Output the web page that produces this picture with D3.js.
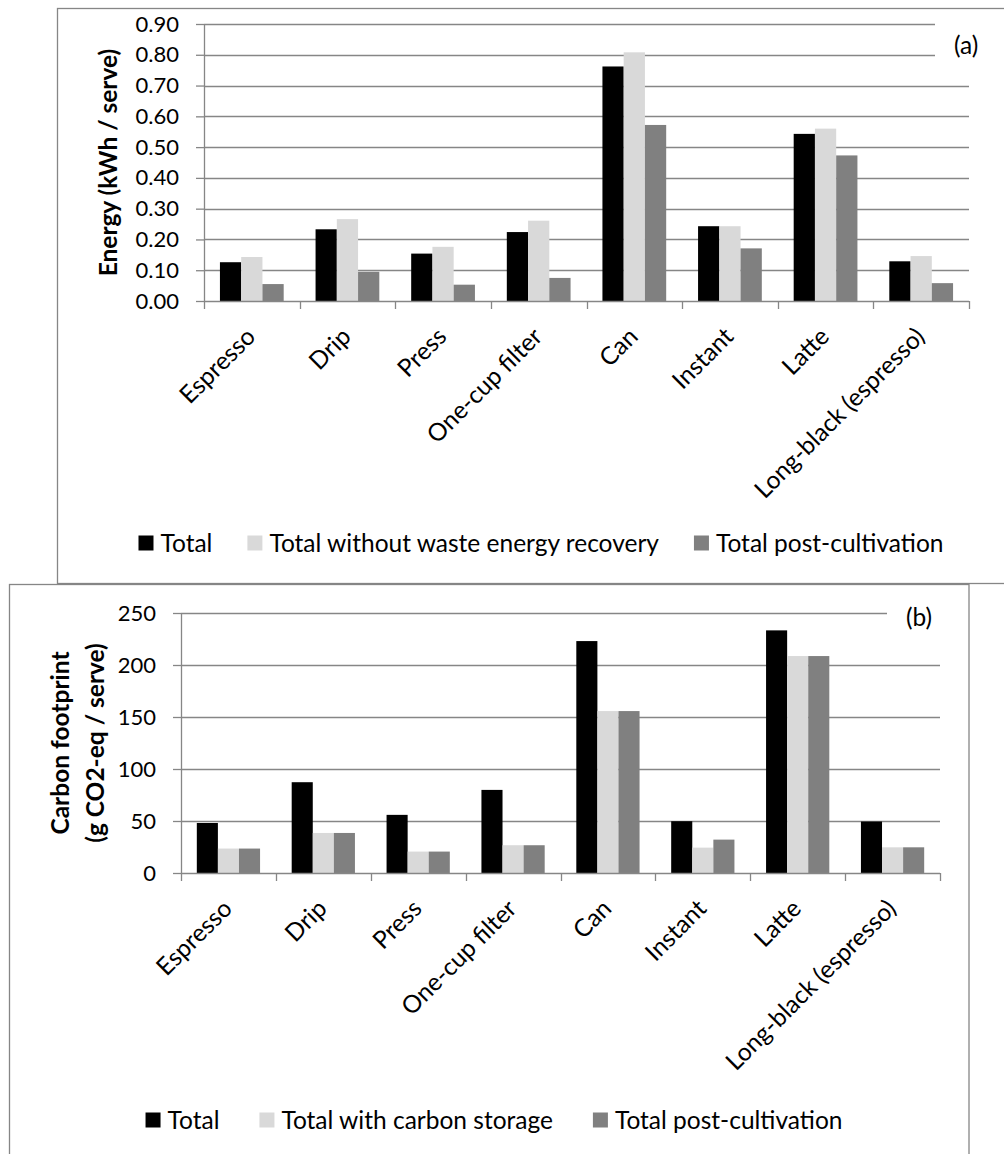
<!DOCTYPE html>
<html>
<head>
<meta charset="utf-8">
<script src="https://cdn.jsdelivr.net/npm/d3@7"></script>
<style>
  body { margin: 0; background: #fff; }
  svg { display: block; font-family: Lato, "Open Sans", sans-serif; }
</style>
</head>
<body>
<svg id="chart" width="1004" height="1154"></svg>
<script>
// categories shared by both panels
var categories = ["Espresso", "Drip", "Press", "One-cup filter", "Can", "Instant", "Latte", "Long-black (espresso)"];

// (a) energy, kWh / serve
var energySeries = ["Total", "Total without waste energy recovery", "Total post-cultivation"];
var energyTotal      = [0.126, 0.233, 0.154, 0.224, 0.762, 0.243, 0.543, 0.129];
var energyNoRecovery = [0.143, 0.266, 0.176, 0.261, 0.808, 0.243, 0.560, 0.146];
var energyPost       = [0.055, 0.095, 0.053, 0.075, 0.572, 0.171, 0.473, 0.058];
var energyTicks = [0, 0.1, 0.2, 0.3, 0.4, 0.5, 0.6, 0.7, 0.8, 0.9];

// (b) carbon footprint, g CO2-eq / serve
var carbonSeries = ["Total", "Total with carbon storage", "Total post-cultivation"];
var carbonTotal   = [48.1, 87.3, 55.9, 79.9, 223.0, 49.8, 233.3, 49.5];
var carbonStorage = [23.5, 38.5, 20.6, 26.7, 155.7, 24.4, 208.6, 24.7];
var carbonPost    = [23.5, 38.5, 20.6, 26.7, 155.7, 32.1, 208.6, 24.7];
var carbonTicks = [0, 50, 100, 150, 200, 250];

var colors = ["#000000", "#d9d9d9", "#808080"];
var lineGray = "#868686";
var tickFont = 22, textFont = 24.5;

var svg = d3.select("#chart");

// panel frames
svg.append("rect").attr("x", 57.5).attr("y", 8.5).attr("width", 1000).attr("height", 575)
    .attr("fill", "none").attr("stroke", lineGray).attr("stroke-width", 1.3);
svg.append("rect").attr("x", 9.5).attr("y", 584.5).attr("width", 959.5).attr("height", 600)
    .attr("fill", "#fff").attr("stroke", lineGray).attr("stroke-width", 1.3);

function drawPanel(opt) {
    var width = opt.right - opt.left,
        height = opt.bottom - opt.top;
    var g = svg.append("g").attr("transform", "translate(" + opt.left + "," + opt.top + ")");

    var data = categories.map(function(c, i) {
        return { cat: c, values: opt.series.map(function(s, j) { return { key: s, value: opt.values[j][i] }; }) };
    });

    var x0 = d3.scaleBand().domain(categories).range([0, width]).paddingInner(1 / 3).paddingOuter(1 / 6);
    var x1 = d3.scaleBand().domain(opt.series).range([0, x0.bandwidth()]);
    var y = d3.scaleLinear().domain([0, opt.ticks[opt.ticks.length - 1]]).range([height, 0]);
    var z = d3.scaleOrdinal().domain(opt.series).range(colors);

    // gridlines
    g.append("g").selectAll("line")
        .data(opt.ticks.slice(1))
        .enter().append("line")
        .attr("x1", 0).attr("x2", width)
        .attr("y1", function(d) { return Math.round(y(d)) + 0.5; })
        .attr("y2", function(d) { return Math.round(y(d)) + 0.5; })
        .attr("stroke", lineGray).attr("stroke-width", 1.3);

    // white box behind the panel tag
    g.append("rect")
        .attr("x", opt.tagBox[0] - opt.left).attr("y", opt.tagBox[1] - opt.top)
        .attr("width", opt.tagBox[2]).attr("height", opt.tagBox[3])
        .attr("fill", "#fff");
    g.append("text")
        .attr("x", opt.tagPos[0] - opt.left).attr("y", opt.tagPos[1] - opt.top)
        .attr("dy", "0.35em")
        .attr("font-size", textFont)
        .text(opt.tag);

    // bars
    g.append("g").selectAll("g")
        .data(data)
        .enter().append("g")
        .attr("transform", function(d) { return "translate(" + x0(d.cat) + ",0)"; })
        .selectAll("rect")
        .data(function(d) { return d.values; })
        .enter().append("rect")
        .attr("x", function(d) { return x1(d.key); })
        .attr("y", function(d) { return y(d.value); })
        .attr("width", x1.bandwidth())
        .attr("height", function(d) { return height - y(d.value); })
        .attr("fill", function(d) { return z(d.key); });

    // y axis
    var yAxis = g.append("g")
        .call(d3.axisLeft(y).tickValues(opt.ticks).tickFormat(opt.format).tickSizeInner(8).tickSizeOuter(0).tickPadding(17));
    yAxis.attr("font-family", null);
    yAxis.select(".domain").attr("stroke", lineGray).attr("stroke-width", 1.3);
    yAxis.selectAll(".tick line").attr("stroke", lineGray).attr("stroke-width", 1.3);
    yAxis.selectAll(".tick text").attr("font-size", tickFont).attr("fill", "#000");

    // x axis: baseline with ticks on category boundaries
    var xa = g.append("g").attr("transform", "translate(0," + height + ")");
    xa.append("line").attr("x1", 0).attr("x2", width).attr("y1", 0.5).attr("y2", 0.5)
        .attr("stroke", lineGray).attr("stroke-width", 1.3);
    xa.selectAll("line.tk")
        .data(d3.range(categories.length + 1))
        .enter().append("line")
        .attr("class", "tk")
        .attr("x1", function(i) { return Math.round(i * x0.step()) + 0.5; })
        .attr("x2", function(i) { return Math.round(i * x0.step()) + 0.5; })
        .attr("y1", 0).attr("y2", 8)
        .attr("stroke", lineGray).attr("stroke-width", 1.3);
    xa.selectAll("text")
        .data(categories)
        .enter().append("text")
        .attr("transform", function(d) {
            return "translate(" + (x0(d) + x0.bandwidth() / 2 - 1) + ",31) rotate(-45)";
        })
        .attr("text-anchor", "end")
        .attr("dy", "0.35em")
        .attr("font-size", textFont)
        .text(function(d) { return d; });

    // y axis title
    var title = g.append("text")
        .attr("transform", "translate(" + (opt.titleX[0] - opt.left) + "," + (height / 2) + ") rotate(-90)")
        .attr("text-anchor", "middle")
        .attr("font-weight", "bold")
        .attr("font-size", textFont);
    opt.title.forEach(function(t, i) {
        title.append("tspan")
            .attr("x", 0)
            .attr("y", opt.titleX[i] - opt.titleX[0])
            .attr("dy", "0.35em")
            .text(t);
    });

    // legend, centred under the plot
    var legend = svg.append("g").attr("font-size", textFont);
    var items = legend.selectAll("g")
        .data(opt.series)
        .enter().append("g");
    items.append("rect")
        .attr("width", 15).attr("height", 15)
        .attr("y", -7.5)
        .attr("fill", z);
    items.append("text")
        .attr("x", 22)
        .attr("dy", "0.35em")
        .text(function(d) { return d; });
    var pos = 0, starts = [];
    items.each(function() {
        starts.push(pos);
        pos += 22 + this.querySelector("text").getComputedTextLength() + opt.legendGap;
    });
    var total = pos - opt.legendGap;
    items.attr("transform", function(d, i) { return "translate(" + starts[i] + ",0)"; });
    legend.attr("transform", "translate(" + (opt.legendCenter[0] - total / 2) + "," + opt.legendCenter[1] + ")");
}

drawPanel({
    left: 204, right: 969, top: 24, bottom: 301,
    series: energySeries,
    values: [energyTotal, energyNoRecovery, energyPost],
    ticks: energyTicks,
    format: d3.format(".2f"),
    title: ["Energy (kWh / serve)"],
    titleX: [108],
    tag: "(a)", tagPos: [954, 45], tagBox: [935, 15, 60, 45],
    legendCenter: [541, 543], legendGap: 35
});

drawPanel({
    left: 181, right: 940, top: 613, bottom: 873,
    series: carbonSeries,
    values: [carbonTotal, carbonStorage, carbonPost],
    ticks: carbonTicks,
    format: d3.format("d"),
    title: ["Carbon footprint", "(g CO2-eq / serve)"],
    titleX: [60, 95],
    tag: "(b)", tagPos: [906, 617], tagBox: [887, 598, 53, 40],
    legendCenter: [494, 1120], legendGap: 40
});
</script>
</body>
</html>
